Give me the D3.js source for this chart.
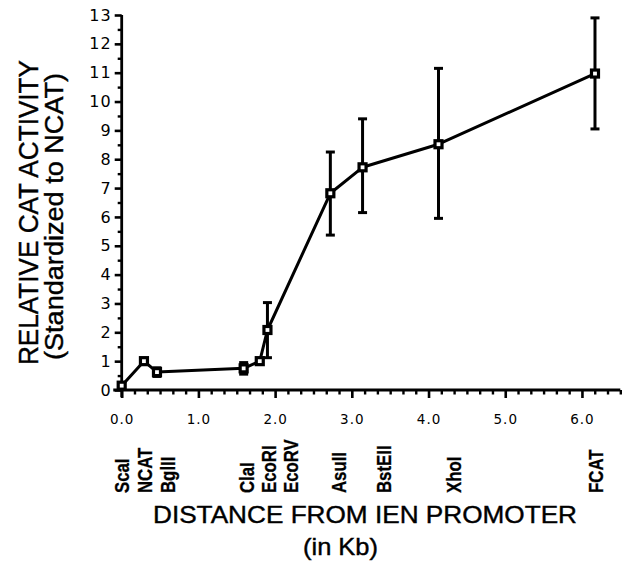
<!DOCTYPE html>
<html>
<head>
<meta charset="utf-8">
<script src="https://cdn.jsdelivr.net/npm/d3@7"></script>
<style>
  body { margin: 0; background: #fff; }
  svg { display: block; }
</style>
</head>
<body>
<div id="chart"></div>
<script>
// Restriction sites and measured CAT activity
const sites = ["ScaI", "NCAT", "BglII", "ClaI", "EcoRI", "EcoRV", "AsuII", "BstEII", "XhoI", "FCAT"];
const distance = [0.0, 0.29, 0.46, 1.59, 1.80, 1.90, 2.72, 3.14, 4.13, 6.17];
const activity = [0.15, 1.0, 0.62, 0.75, 1.0, 2.08, 6.82, 7.72, 8.52, 10.97];
const errLow = [0.15, 1.0, 0.47, 0.55, 1.0, 1.12, 5.37, 6.15, 5.95, 9.05];
const errHigh = [0.15, 1.0, 0.77, 0.95, 1.0, 3.03, 8.25, 9.4, 11.15, 12.9];
// where each site name sits along the distance axis
const labelPos = [0.0, 0.29, 0.59, 1.63, 1.91, 2.20, 2.82, 3.41, 4.32, 6.17];

const xTicks = [0, 1, 2, 3, 4, 5, 6];
const xTickLabels = ["0.0", "1.0", "2.0", "3.0", "4.0", "5.0", "6.0"];
const yTicks = [0, 1, 2, 3, 4, 5, 6, 7, 8, 9, 10, 11, 12, 13];

const width = 622;
const height = 562;

const data = sites.map((s, i) => ({
  site: s, x: distance[i], y: activity[i], lo: errLow[i], hi: errHigh[i], lx: labelPos[i]
}));

const svg = d3.select("#chart")
  .append("svg")
  .attr("width", width)
  .attr("height", height);

// scales
const x = d3.scaleLinear().domain([0, 6.5]).range([121.7, 620.3]);
const y = d3.scaleLinear().domain([0, 13]).range([390, 15]);

// x axis: majors every 1 kb, minors every 1/6 kb
const minorX = d3.range(0, 40).map(k => k / 6).filter(v => v <= 6.5 && Math.abs(v - Math.round(v)) > 1e-6);

const xAxisG = svg.append("g")
  .attr("transform", `translate(0, ${y(0)})`);

xAxisG.append("line")
  .attr("x1", x(-0.11)).attr("x2", x(6.5))
  .attr("stroke", "#000").attr("stroke-width", 2.8);

xAxisG.append("g")
  .call(d3.axisBottom(x).tickValues(xTicks).tickSize(8).tickPadding(16)
    .tickFormat((d, i) => xTickLabels[i]))
  .call(g => g.select(".domain").remove())
  .call(g => g.selectAll("line").attr("stroke-width", 2.6))
  .call(g => g.selectAll("text")
    .attr("font-family", "DejaVu Sans")
    .attr("font-size", 13.5)
    .attr("letter-spacing", 1)
    .attr("fill", "#000"));

xAxisG.append("g")
  .call(d3.axisBottom(x).tickValues(minorX).tickSize(4.5).tickFormat(""))
  .call(g => g.select(".domain").remove())
  .call(g => g.selectAll("line").attr("stroke-width", 2.4));

// y axis: majors every 1, minors every 0.5
const yAxisG = svg.append("g")
  .attr("transform", `translate(${x(0)}, 0)`);

yAxisG.append("line")
  .attr("y1", y(-0.25)).attr("y2", y(13))
  .attr("stroke", "#000").attr("stroke-width", 2.8);

yAxisG.append("g")
  .call(d3.axisLeft(y).tickValues(yTicks).tickSize(7).tickPadding(3).tickFormat(d3.format("d")))
  .call(g => g.select(".domain").remove())
  .call(g => g.selectAll("line").attr("stroke-width", 2.6))
  .call(g => g.selectAll("text")
    .attr("font-family", "DejaVu Sans")
    .attr("font-size", 16)
    .attr("letter-spacing", 1)
    .attr("fill", "#000"));

yAxisG.append("g")
  .call(d3.axisLeft(y).tickValues(yTicks.slice(0, -1).map(v => v + 0.5)).tickSize(4).tickFormat(""))
  .call(g => g.select(".domain").remove())
  .call(g => g.selectAll("line").attr("stroke-width", 2.4));

// error bars
const err = svg.append("g").attr("stroke", "#000").attr("stroke-width", 3);
const cap = 4.5;
data.filter(d => d.hi - d.lo > 0.01).forEach(d => {
  err.append("line")
    .attr("x1", x(d.x)).attr("x2", x(d.x))
    .attr("y1", y(d.lo)).attr("y2", y(d.hi));
  [d.lo, d.hi].forEach(v => {
    err.append("line")
      .attr("x1", x(d.x) - cap).attr("x2", x(d.x) + cap)
      .attr("y1", y(v)).attr("y2", y(v));
  });
});

// connecting line
const line = d3.line().x(d => x(d.x)).y(d => y(d.y));
svg.append("path")
  .datum(data)
  .attr("d", line)
  .attr("fill", "none")
  .attr("stroke", "#000")
  .attr("stroke-width", 3)
  .attr("stroke-linejoin", "round");

// square markers
const m = 7;
svg.selectAll(".pt")
  .data(data)
  .enter()
  .append("rect")
  .attr("class", "pt")
  .attr("x", d => x(d.x) - m / 2)
  .attr("y", d => y(d.y) - m / 2)
  .attr("width", m)
  .attr("height", m)
  .attr("fill", "#fff")
  .attr("stroke", "#000")
  .attr("stroke-width", 3.2);

// site names under the axis, rotated
svg.selectAll(".site")
  .data(data)
  .enter()
  .append("text")
  .attr("class", "site")
  .attr("transform", d => `translate(${x(d.lx)}, 493) rotate(-90) scale(0.8, 1)`)
  .attr("dy", "0.36em")
  .attr("text-anchor", "start")
  .attr("font-family", "Liberation Sans")
  .attr("font-weight", "bold")
  .attr("font-size", 21)
  .attr("stroke", "#000")
  .attr("stroke-width", 0.3)
  .text(d => d.site);

// axis titles
svg.append("text")
  .attr("x", 153).attr("y", 523)
  .attr("font-family", "Liberation Sans")
  .attr("font-size", 24)
  .attr("textLength", 424)
  .attr("lengthAdjust", "spacingAndGlyphs")
  .attr("stroke", "#000")
  .attr("stroke-width", 0.4)
  .text("DISTANCE FROM IEN PROMOTER");

svg.append("text")
  .attr("x", 303).attr("y", 555)
  .attr("font-family", "Liberation Sans")
  .attr("font-size", 24)
  .attr("textLength", 75)
  .attr("lengthAdjust", "spacingAndGlyphs")
  .attr("stroke", "#000")
  .attr("stroke-width", 0.4)
  .text("(in Kb)");

svg.append("text")
  .attr("transform", "translate(38, 365) rotate(-90)")
  .attr("font-family", "Liberation Sans")
  .attr("font-size", 27)
  .attr("textLength", 305)
  .attr("lengthAdjust", "spacingAndGlyphs")
  .attr("stroke", "#000")
  .attr("stroke-width", 0.4)
  .text("RELATIVE CAT ACTIVITY");

svg.append("text")
  .attr("transform", "translate(63, 360) rotate(-90)")
  .attr("font-family", "Liberation Sans")
  .attr("font-size", 25)
  .attr("textLength", 287)
  .attr("lengthAdjust", "spacingAndGlyphs")
  .attr("stroke", "#000")
  .attr("stroke-width", 0.4)
  .text("(Standardized to NCAT)");
</script>
</body>
</html>
